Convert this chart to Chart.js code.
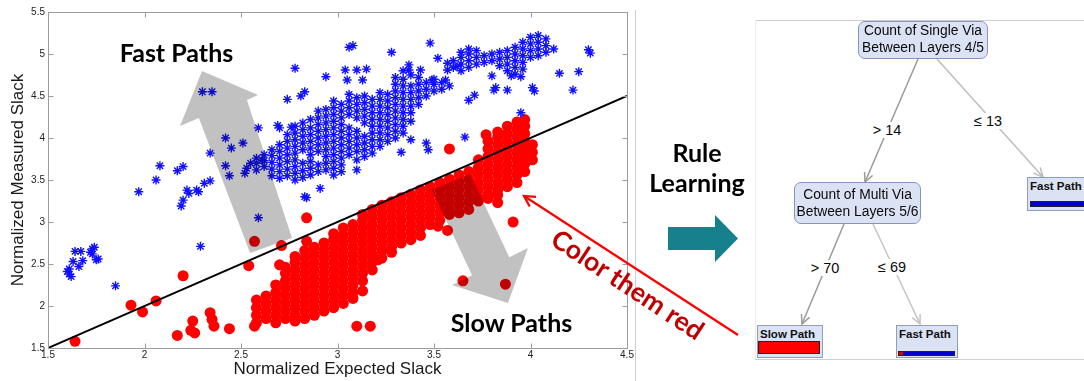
<!DOCTYPE html>
<html><head><meta charset="utf-8">
<script src="https://cdn.jsdelivr.net/npm/chart.js@4.4.1/dist/chart.umd.min.js"></script>
<style>
html,body{margin:0;padding:0;background:#fff;}
body{width:1084px;height:381px;overflow:hidden;position:relative;font-family:"Liberation Sans",Arial,sans-serif;}
#c{position:absolute;left:0;top:0;}
.big{position:absolute;font-family:Lato,"Open Sans",sans-serif;font-weight:700;font-size:25px;line-height:30px;color:#000;white-space:nowrap;}
.node{position:absolute;box-sizing:border-box;background:#dbe2f4;border:1.5px solid #8495c2;border-radius:7px;font-size:13.8px;text-align:center;color:#0a0a0a;white-space:nowrap;}
.leaf{position:absolute;box-sizing:border-box;background:#dbe2f4;border:1.5px solid #8d9dc6;font-size:11.5px;font-weight:700;line-height:13px;color:#111;padding:1.5px 0 0 2px;white-space:nowrap;}
.bar{position:absolute;box-sizing:border-box;border:1px solid #222;}
.elab{position:absolute;font-size:14.5px;line-height:16px;background:#fff;color:#0a0a0a;transform:translate(-50%,-50%);white-space:nowrap;padding:0 1px;}
</style></head>
<body>
<canvas id="c" width="1084" height="381"></canvas>

<div class="big" style="left:100px;top:37px;width:153px;text-align:center">Fast Paths</div>
<div class="big" style="left:435px;top:307px;width:153px;text-align:center">Slow Paths</div>
<div class="big" style="left:637px;top:137px;width:120px;text-align:center">Rule<br>Learning</div>
<div class="big" style="left:628px;top:284px;font-size:26.5px;color:#c00000;transform:translate(-50%,-50%) rotate(33.5deg)">Color them red</div>

<div class="node" style="left:858px;top:21px;width:130px;height:38px;padding-top:1px;line-height:16.5px">Count of Single Via<br>Between Layers 4/5</div>
<div class="node" style="left:794px;top:182px;width:127px;height:42px;padding-top:3px;line-height:17px">Count of Multi Via<br>Between Layers 5/6</div>

<div class="leaf" style="left:1027px;top:177px;width:80px;height:34px">Fast Path<div class="bar" style="left:1.5px;top:22.5px;width:60px;height:6px;background:#0000d0"></div></div>
<div class="leaf" style="left:757px;top:325px;width:66px;height:33px">Slow Path<div class="bar" style="left:0;top:15px;width:62px;height:13px;background:#ff0000"></div></div>
<div class="leaf" style="left:896px;top:325px;width:62px;height:33px">Fast Path<div class="bar" style="left:1px;top:24.5px;width:57px;height:5px;background:linear-gradient(to right,#e00000 0 4px,#0000c8 4px)"></div></div>

<div class="elab" style="left:887px;top:130px">&gt; 14</div>
<div class="elab" style="left:988px;top:121px">≤ 13</div>
<div class="elab" style="left:825px;top:268px">&gt; 70</div>
<div class="elab" style="left:892px;top:267px">≤ 69</div>

<script>
// ---------- data ----------
const xTicks = [1.5, 2, 2.5, 3, 3.5, 4, 4.5];
const xTickLabels = ['1.5', '2', '2.5', '3', '3.5', '4', '4.5'];
const yTicks = [1.5, 2, 2.5, 3, 3.5, 4, 4.5, 5, 5.5];
const yTickLabels = ['1.5', '2', '2.5', '3', '3.5', '4', '4.5', '5', '5.5'];

// reference line (measured = expected)
const refLineX = [1.5, 4.5];
const refLineY = [1.5, 4.5];

// fast paths (blue asterisks): dense band, columns of [x, [y...]]
const fastCore = [
 [2.58,[3.62,3.70,3.76]],
 [2.62,[3.66,3.73,3.80]],
 [2.66,[3.55,3.63,3.71,3.79,3.86]],
 [2.70,[3.52,3.60,3.68,3.76,3.84,3.92,4.12]],
 [2.74,[3.55,3.63,3.72,3.80,3.88,3.96,4.04]],
 [2.78,[3.50,3.58,3.66,3.74,3.82,3.90,3.98,4.06,4.14]],
 [2.82,[3.53,3.61,3.70,3.86,3.94,4.02,4.10,4.18]],
 [2.86,[3.56,3.64,3.72,3.80,3.88,3.96,4.04,4.12,4.22]],
 [2.90,[3.60,3.68,3.84,3.92,4.00,4.08,4.16,4.24,4.32]],
 [2.94,[3.62,3.70,3.78,3.86,3.94,4.02,4.10,4.18,4.26,4.34]],
 [2.98,[3.56,3.64,3.72,3.80,3.88,3.96,4.04,4.12,4.20,4.28,4.36,4.44]],
 [3.02,[3.60,3.68,3.76,3.84,3.92,4.00,4.08,4.16,4.24,4.32,4.40]],
 [3.06,[3.80,3.88,3.96,4.04,4.12,4.28,4.36,4.44,4.52]],
 [3.10,[3.74,3.84,3.92,4.00,4.08,4.24,4.32,4.40,4.48]],
 [3.14,[3.78,3.86,3.94,4.02,4.18,4.26,4.34,4.42,4.50]],
 [3.18,[3.82,3.90,3.98,4.06,4.14,4.22,4.30,4.38,4.46]],
 [3.22,[3.90,3.98,4.06,4.14,4.22,4.30,4.38,4.46,4.54]],
 [3.26,[3.96,4.04,4.12,4.20,4.28,4.36,4.44,4.52]],
 [3.30,[4.00,4.08,4.16,4.24,4.32,4.40,4.48,4.56,4.64,4.72]],
 [3.34,[4.06,4.14,4.22,4.30,4.38,4.46,4.54,4.62,4.70,4.80]],
 [3.38,[4.20,4.30,4.38,4.46,4.54,4.62]],
 [3.42,[4.40,4.48,4.56,4.64,4.72]],
 [3.46,[4.50,4.58,4.66]],
 [3.50,[4.56,4.64,4.70]],
 [3.54,[4.58,4.66]],
 [3.58,[4.62]]
];
const fastUpper = [
 [3.60,[4.84,4.92]],
 [3.64,[4.80,4.88,4.96,5.02]],
 [3.68,[4.84,4.92,5.00,5.06]],
 [3.72,[4.88,4.96,5.04]],
 [3.76,[4.90,4.98]],
 [3.80,[4.74,4.92,5.00]],
 [3.84,[4.86,4.94,5.02]],
 [3.88,[4.80,4.88,4.96,5.04]],
 [3.92,[4.76,4.84,4.92,5.00,5.08]],
 [3.96,[4.82,4.90,4.98,5.06,5.14]],
 [4.00,[4.96,5.04,5.12,5.20]],
 [4.04,[4.98,5.06,5.14,5.22]],
 [4.08,[5.02,5.10,5.18]],
 [4.12,[5.06]]
];
const fastScatter = [
 [1.60,2.41],[1.61,2.44],[1.61,2.38],[1.62,2.35],[1.63,2.53],[1.64,2.65],[1.67,2.65],[1.66,2.47],[1.68,2.54],
 [1.72,2.64],[1.73,2.68],[1.74,2.70],[1.73,2.62],[1.75,2.55],[1.76,2.56],[1.85,2.24],
 [2.29,2.71],[2.59,3.05],[2.84,3.29],[1.97,3.36],
 [2.30,4.55],[2.35,4.55],[2.08,3.67],[2.06,3.50],[2.17,3.61],[2.20,3.66],
 [2.19,3.19],[2.20,3.26],[2.23,3.34],[2.22,3.38],[2.27,3.38],[2.28,3.36],[2.31,3.46],[2.34,3.49],
 [2.34,3.82],[2.42,4.00],[2.45,3.88],[2.51,3.94],[2.42,3.67],[2.44,3.55],
 [2.53,3.64],[2.55,3.70],[2.52,3.58],[2.59,4.12],[2.61,3.74],[2.69,4.15],[2.76,4.13],
 [2.74,4.46],[2.78,4.83],[2.81,4.50],[2.83,4.55],[2.94,4.73],[2.91,3.40],[2.83,3.30],
 [3.04,4.81],[3.10,4.81],[3.15,4.82],[3.06,5.08],[3.08,5.10],[3.05,4.69],[3.10,3.62],[3.13,4.69],
 [3.28,5.02],[3.48,5.13],[3.52,4.95],[3.37,4.87],[3.37,4.81],[3.38,4.75],[3.43,4.81],[3.49,4.69],[3.56,4.69],
 [3.57,4.89],[3.57,4.81],[3.62,4.85],
 [4.30,5.05],[4.31,5.01],[4.15,4.77],[4.25,4.79],[4.22,4.57],[4.01,4.60],[4.02,4.56],[3.88,4.57],[3.82,4.60],[3.81,4.57],
 [3.95,4.73],[3.90,4.74],[3.66,4.01],[3.68,4.45],[3.71,4.51],[3.95,4.30],[3.46,3.94],[3.47,3.86],[3.33,3.83],[3.38,3.98]
];

// slow paths (red circles): dense band, columns of [x, [y...]]
const slowCore = [
 [2.58,[1.80,1.89,1.98,2.07]],
 [2.63,[1.85,1.94,2.03,2.12]],
 [2.68,[1.80,1.89,1.98,2.07,2.16,2.25]],
 [2.73,[1.85,1.94,2.03,2.12,2.21,2.30,2.39,2.46]],
 [2.78,[1.82,1.89,1.98,2.07,2.16,2.25,2.34,2.43,2.52,2.59]],
 [2.83,[1.85,1.94,2.03,2.12,2.21,2.30,2.39,2.48,2.57,2.66]],
 [2.88,[1.89,1.98,2.07,2.16,2.25,2.34,2.43,2.52,2.61,2.70]],
 [2.93,[1.94,2.03,2.12,2.21,2.30,2.39,2.48,2.57,2.66,2.75]],
 [2.98,[1.98,2.07,2.16,2.25,2.34,2.43,2.52,2.61,2.70,2.79,2.86]],
 [3.03,[2.03,2.12,2.21,2.30,2.39,2.48,2.57,2.66,2.75,2.84,2.93]],
 [3.08,[2.09,2.16,2.25,2.34,2.43,2.52,2.61,2.70,2.79,2.88,2.97]],
 [3.13,[2.30,2.39,2.48,2.57,2.66,2.75,2.84,2.93,3.02,3.09]],
 [3.18,[2.43,2.52,2.61,2.70,2.79,2.88,2.97,3.06,3.15]],
 [3.23,[2.57,2.66,2.75,2.84,2.93,3.02,3.11,3.20]],
 [3.28,[2.64,2.70,2.79,2.88,2.97,3.06,3.15,3.24]],
 [3.33,[2.75,2.84,2.93,3.02,3.11,3.20,3.29]],
 [3.38,[2.79,2.88,2.97,3.06,3.15,3.24,3.33]],
 [3.43,[2.84,2.93,3.02,3.11,3.20,3.29,3.38]],
 [3.48,[2.97,3.06,3.15,3.24,3.33,3.42]],
 [3.53,[3.02,3.11,3.20,3.29,3.38,3.47]],
 [3.58,[3.09,3.15,3.24,3.33,3.42,3.51]],
 [3.63,[3.11,3.20,3.29,3.38,3.47,3.56]],
 [3.68,[3.15,3.24,3.33,3.42,3.51,3.60]],
 [3.73,[3.25,3.29,3.38,3.47,3.56,3.65,3.74]],
 [3.78,[3.28,3.33,3.42,3.51,3.60,3.69,3.78,3.87,3.96]],
 [3.83,[3.32,3.38,3.47,3.56,3.65,3.74,3.83,3.92,4.01,4.07]],
 [3.88,[3.42,3.51,3.60,3.69,3.78,3.87,3.96,4.05,4.14]],
 [3.93,[3.47,3.56,3.65,3.74,3.83,3.92,4.01,4.10,4.19]],
 [3.97,[3.60,3.69,3.78,3.87,3.96,4.05,4.14,4.22]],
 [4.01,[3.74,3.83,3.92]]
];
const slowScatter = [
 [1.64,1.58],[1.93,2.01],[1.99,1.93],[2.06,2.06],[2.20,2.36],[2.17,1.65],[2.24,1.71],[2.25,1.82],[2.26,1.68],
 [2.34,1.92],[2.35,1.84],[2.36,1.76],[2.44,1.73],[2.54,2.48],[2.57,2.77],[2.71,2.72],[2.84,3.05],[2.84,2.77],
 [2.70,2.49],[2.57,1.76],[3.10,1.76],[3.17,1.76],[3.13,2.18],[3.52,2.95],[3.57,2.90],[3.65,2.30],[3.87,2.26],
 [3.83,3.23],[3.91,3.00],[3.58,3.87],[3.77,4.04],[3.21,2.55]
];

// ---------- annotation geometry (data units / page pixels) ----------
const grayArrows = [
 [[2.298,4.798],[2.588,4.512],[2.531,4.452],[2.764,2.810],[2.547,2.631],[2.282,4.238],[2.184,4.143]],
 [[3.490,3.381],[3.687,3.571],[3.890,2.581],[3.987,2.690],[3.883,2.036],[3.593,2.250],[3.697,2.367]]
];
const treeEdges = [
 {from:[918,59], to:[865,182], color:'#9a9a9a'},
 {from:[937,59], to:[1043,177], color:'#bdbdbd'},
 {from:[844,224], to:[802,324], color:'#9a9a9a'},
 {from:[873,224], to:[920,324], color:'#c4c4c4'}
];

const cols = c => c.flatMap(([x, ys]) => ys.map(y => ({x, y})));
const pairs = p => p.map(([x, y]) => ({x, y}));

function vArrowHead(ctx, fx, fy, tx, ty, len, ang) {
  const a = Math.atan2(ty - fy, tx - fx);
  ctx.beginPath();
  ctx.moveTo(tx - len * Math.cos(a - ang), ty - len * Math.sin(a - ang));
  ctx.lineTo(tx, ty);
  ctx.lineTo(tx - len * Math.cos(a + ang), ty - len * Math.sin(a + ang));
  ctx.stroke();
}

const decor = {
  id: 'decor',
  afterDatasetsDraw(chart) {
    const {ctx, chartArea: a, scales: {x, y}} = chart;
    ctx.save();
    ctx.globalCompositeOperation = 'multiply';
    ctx.fillStyle = '#c1c1c1';
    for (const poly of grayArrows) {
      ctx.beginPath();
      poly.forEach(([dx, dy], i) => {
        const px = x.getPixelForValue(dx), py = y.getPixelForValue(dy);
        if (i) ctx.lineTo(px, py); else ctx.moveTo(px, py);
      });
      ctx.closePath();
      ctx.fill();
    }
    ctx.restore();

    // MATLAB-style box with inward ticks
    ctx.save();
    ctx.strokeStyle = '#9c9c9c';
    ctx.lineWidth = 1;
    const L = Math.round(a.left) + 0.5, R = Math.round(a.right) + 0.5;
    const T = Math.round(a.top) + 0.5, B = Math.round(a.bottom) + 0.5;
    ctx.strokeRect(L, T, R - L, B - T);
    ctx.beginPath();
    xTicks.forEach(v => {
      const px = Math.round(x.getPixelForValue(v)) + 0.5;
      ctx.moveTo(px, B); ctx.lineTo(px, B - 5);
      ctx.moveTo(px, T); ctx.lineTo(px, T + 5);
    });
    yTicks.forEach(v => {
      const py = Math.round(y.getPixelForValue(v)) + 0.5;
      ctx.moveTo(L, py); ctx.lineTo(L + 5, py);
      ctx.moveTo(R, py); ctx.lineTo(R - 5, py);
    });
    ctx.stroke();
    ctx.restore();
  },
  afterDraw(chart) {
    const ctx = chart.ctx;
    ctx.save();
    ctx.lineWidth = 1;
    ctx.strokeStyle = '#cfcfcf';
    ctx.beginPath();
    ctx.moveTo(635.5, 10); ctx.lineTo(635.5, 381);
    ctx.moveTo(755, 20.5); ctx.lineTo(1084, 20.5);
    ctx.moveTo(755, 359.5); ctx.lineTo(1084, 359.5);
    ctx.stroke();
    ctx.strokeStyle = '#ececec';
    ctx.beginPath();
    ctx.moveTo(755.5, 20); ctx.lineTo(755.5, 359);
    ctx.stroke();

    // red annotation arrow
    ctx.strokeStyle = '#ff0000';
    ctx.lineWidth = 2.2;
    ctx.beginPath();
    ctx.moveTo(738, 335); ctx.lineTo(524, 196);
    ctx.stroke();
    vArrowHead(ctx, 738, 335, 524, 196, 12, 0.5);

    // teal block arrow
    ctx.fillStyle = '#17808d';
    ctx.beginPath();
    ctx.moveTo(668, 227); ctx.lineTo(715, 227); ctx.lineTo(715, 215);
    ctx.lineTo(738, 238.5); ctx.lineTo(715, 262); ctx.lineTo(715, 250);
    ctx.lineTo(668, 250); ctx.closePath();
    ctx.fill();

    // decision tree edges
    ctx.lineWidth = 1.5;
    for (const e of treeEdges) {
      ctx.strokeStyle = e.color;
      ctx.beginPath();
      ctx.moveTo(e.from[0], e.from[1]); ctx.lineTo(e.to[0], e.to[1]);
      ctx.stroke();
      vArrowHead(ctx, e.from[0], e.from[1], e.to[0], e.to[1], 10, 0.45);
    }
    ctx.restore();
  }
};

new Chart(document.getElementById('c'), {
  type: 'scatter',
  data: {
    datasets: [
      { type: 'line', data: refLineX.map((x, i) => ({x, y: refLineY[i]})), borderColor: '#000', borderWidth: 2, pointRadius: 0, fill: false },
      { data: cols(fastCore).concat(cols(fastUpper), pairs(fastScatter)), pointStyle: 'star', pointRadius: 4.5, borderColor: '#1010ff', backgroundColor: '#1010ff', borderWidth: 1.4 },
      { data: cols(slowCore).concat(pairs(slowScatter)), pointStyle: 'circle', pointRadius: 5.5, backgroundColor: '#ff0000', borderWidth: 0 }
    ]
  },
  options: {
    responsive: false, animation: false, events: [],
    layout: { padding: { left: 0, top: 12, right: 457, bottom: 0 } },
    plugins: { legend: { display: false }, tooltip: { enabled: false } },
    scales: {
      x: {
        type: 'linear', min: 1.5, max: 4.5,
        afterBuildTicks: s => { s.ticks = xTicks.map(v => ({value: v})); },
        afterFit: s => { s.height = 33; },
        grid: { display: false, drawTicks: false }, border: { display: false },
        ticks: { padding: 1, autoSkip: false, maxRotation: 0, color: '#222', font: { size: 10, family: 'Liberation Sans' },
                 callback: (v, i) => xTickLabels[i] },
        title: { display: true, text: 'Normalized Expected Slack', color: '#1a1a1a', font: { size: 17, family: 'Liberation Sans' }, padding: { top: 0, bottom: 1 } }
      },
      y: {
        type: 'linear', min: 1.5, max: 5.5,
        afterBuildTicks: s => { s.ticks = yTicks.map(v => ({value: v})); },
        afterFit: s => { s.width = 48; },
        grid: { display: false, drawTicks: false }, border: { display: false },
        ticks: { padding: 3, autoSkip: false, color: '#222', font: { size: 10, family: 'Liberation Sans' },
                 callback: (v, i) => yTickLabels[i] },
        title: { display: true, text: 'Normalized Measured Slack', color: '#1a1a1a', font: { size: 17, family: 'Liberation Sans' }, padding: { top: 8, bottom: 0 } }
      }
    }
  },
  plugins: [decor]
});
</script>
</body></html>
